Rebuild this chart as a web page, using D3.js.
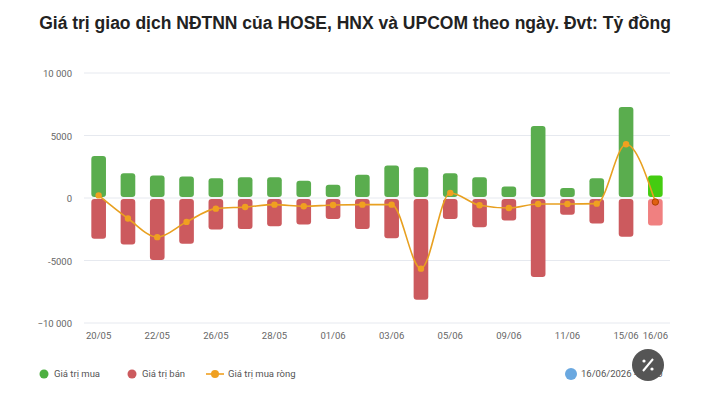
<!DOCTYPE html>
<html><head><meta charset="utf-8">
<script src="https://cdn.jsdelivr.net/npm/d3@7"></script>
<style>body{margin:0;background:#fff;font-family:Roboto,Arial,sans-serif}</style>
</head><body><div id="chart"></div>
<script>
var dates = ["20/05","21/05","22/05","25/05","26/05","27/05","28/05","29/05","01/06","02/06","03/06","04/06","05/06","08/06","09/06","10/06","11/06","12/06","15/06","16/06"];
var buy = [3370,1990,1800,1720,1590,1670,1670,1380,1060,1860,2600,2470,1990,1670,930,5760,800,1590,7290,1800];
var sell = [-3260,-3710,-4960,-3660,-2520,-2470,-2250,-2120,-1670,-2470,-3210,-8140,-1670,-2330,-1800,-6310,-1330,-2040,-3100,-2200];
var net = [210,-1640,-3130,-1910,-850,-720,-530,-660,-560,-530,-530,-5650,400,-580,-800,-480,-480,-450,4300,-320];
var yTicks = [10000,5000,0,-5000,-10000];

var width = 711, height = 400;
var svg = d3.select("#chart").append("svg").attr("width", width).attr("height", height);

svg.append("text").attr("x", 355).attr("y", 29).attr("text-anchor", "middle")
  .attr("font-family", "'Liberation Sans',Arial,sans-serif")
  .attr("font-size", 17.5).attr("font-weight", "bold").attr("fill", "#222")
  .text("Giá trị giao dịch NĐTNN của HOSE, HNX và UPCOM theo ngày. Đvt: Tỷ đồng");

var x = d3.scaleBand().domain(dates).range([84, 670]).paddingInner(0.5).paddingOuter(0.25);
var y = d3.scaleLinear().domain([-10000, 10000]).range([323, 73]);
var fmt = function(d) { return Math.abs(d) >= 10000 ? d3.format(",")(d).replace(",", " ") : d; };

svg.append("g").selectAll("line").data(yTicks).enter().append("line")
  .attr("x1", 84).attr("x2", 670).attr("y1", y).attr("y2", y)
  .attr("stroke", "#e6e9ef").attr("stroke-width", 1);
svg.append("g").selectAll("text").data(yTicks).enter().append("text")
  .attr("x", 72).attr("y", function(d) { return y(d) + 4; }).attr("text-anchor", "end")
  .attr("font-size", 9.5).attr("fill", "#666").text(fmt);

svg.append("g").selectAll("text").data(dates.filter(function(d, i) { return i % 2 == 0 || i == dates.length - 1; }))
  .enter().append("text")
  .attr("x", function(d) { return x(d) + x.bandwidth() / 2; }).attr("y", 339)
  .attr("text-anchor", "middle").attr("font-size", 9.5).attr("fill", "#666").text(function(d) { return d; });

var last = dates.length - 1;
svg.append("g").selectAll("rect").data(buy).enter().append("rect")
  .attr("x", function(d, i) { return x(dates[i]); }).attr("width", x.bandwidth())
  .attr("y", function(d) { return y(d); }).attr("height", function(d) { return y(0) - y(d) - 1; })
  .attr("rx", 3).attr("fill", function(d, i) { return i == last ? "#44cc11" : "#5aad4e"; });
svg.append("g").selectAll("rect").data(sell).enter().append("rect")
  .attr("x", function(d, i) { return x(dates[i]); }).attr("width", x.bandwidth())
  .attr("y", y(0) + 1).attr("height", function(d) { return y(d) - y(0) - 1; })
  .attr("rx", 3).attr("fill", function(d, i) { return i == last ? "#f08080" : "#cc5a5e"; });

var line = d3.line().curve(d3.curveMonotoneX)
  .x(function(d, i) { return x(dates[i]) + x.bandwidth() / 2; }).y(function(d) { return y(d); });
svg.append("path").datum(net).attr("d", line).attr("fill", "none")
  .attr("stroke", "#e8a020").attr("stroke-width", 1.6);
svg.append("g").selectAll("circle").data(net).enter().append("circle")
  .attr("cx", function(d, i) { return x(dates[i]) + x.bandwidth() / 2; }).attr("cy", function(d) { return y(d); })
  .attr("r", 3.2).attr("fill", function(d, i) { return i == last ? "#e06010" : "#f0a020"; })
  .attr("stroke", function(d, i) { return i == last ? "#b04000" : "none"; });

var lg = svg.append("g").attr("font-size", 9.5).attr("fill", "#555");
lg.append("circle").attr("cx", 44).attr("cy", 374).attr("r", 4.5).attr("fill", "#4caf40");
lg.append("text").attr("x", 54).attr("y", 377).text("Giá trị mua");
lg.append("circle").attr("cx", 132).attr("cy", 374).attr("r", 4.5).attr("fill", "#cc5a5e");
lg.append("text").attr("x", 142).attr("y", 377).text("Giá trị bán");
lg.append("line").attr("x1", 206).attr("x2", 224).attr("y1", 374).attr("y2", 374).attr("stroke", "#f0a020").attr("stroke-width", 1.6);
lg.append("circle").attr("cx", 215).attr("cy", 374).attr("r", 4).attr("fill", "#f0a020");
lg.append("text").attr("x", 228).attr("y", 377).text("Giá trị mua ròng");
lg.append("circle").attr("cx", 571).attr("cy", 374).attr("r", 6).attr("fill", "#6aa8e0");
lg.append("text").attr("x", 581).attr("y", 377).text("16/06/2026 - 15:00");
svg.append("circle").attr("cx", 648).attr("cy", 365).attr("r", 16).attr("fill", "#555");
svg.append("path").attr("d", "M643,371L653,359").attr("stroke", "#fff").attr("stroke-width", 2);
svg.append("circle").attr("cx", 644).attr("cy", 361).attr("r", 1.6).attr("fill", "#fff");
svg.append("circle").attr("cx", 652).attr("cy", 369).attr("r", 1.6).attr("fill", "#fff");
</script></body></html>
